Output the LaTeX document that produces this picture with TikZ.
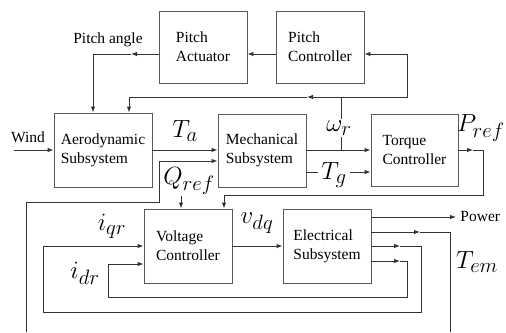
\documentclass[tikz,border=0pt]{standalone}
\usepackage{fontspec}
\setmainfont{Liberation Serif}
\DeclareMathSizes{27}{27}{21}{16}
\usetikzlibrary{arrows.meta,calc}
\begin{document}
\begin{tikzpicture}[x=1pt,y=-1pt,
  line width=0.9pt,
  wire/.style={draw=black!80,line width=0.9pt},
  arr/.style={wire,-{Latex[length=6pt,width=4.5pt]}},
  blk/.style={draw=black!65,line width=0.9pt,minimum width=88pt,minimum height=73pt,inner sep=0pt,align=left,font=\fontsize{15.5}{19}\selectfont},
  lbl/.style={font=\fontsize{15.5}{19}\selectfont,inner sep=1pt},
  mlbl/.style={font=\fontsize{27}{30}\selectfont,inner sep=1pt}]
\useasboundingbox (0,0) rectangle (506,332);
% blocks
\node[blk,minimum height=72pt] (pa) at (203,47) {Pitch\\Actuator};
\node[blk,minimum height=72pt] (pc) at (320,47) {Pitch\\Controller};
\node[blk,minimum width=98pt,minimum height=74pt] (aero) at (103,150) {Aerodynamic\\Subsystem};
\node[blk] (mech) at (262,150.5) {Mechanical\\Subsystem};
\node[blk,minimum width=87pt,minimum height=72pt] (tq) at (414.5,150) {Torque\\Controller};
\node[blk,minimum height=74pt] (vc) at (188,246) {Voltage\\Controller};
\node[blk,minimum height=74pt] (el) at (327,246) {Electrical\\Subsystem};
% helper coordinates
\coordinate (y54) at (0,54);
\coordinate (y150) at (0,150);
\coordinate (y161) at (0,161);
\coordinate (y172) at (0,172);
\coordinate (y217) at (0,217);
\coordinate (y232) at (0,232);
\coordinate (y261) at (0,261);
\coordinate (y264) at (0,264);
\coordinate (paTip) at (131,54);
\coordinate (paCorner) at (93,54);
\coordinate (wj) at (341,150);
\coordinate (fbj) at (341,97);
\coordinate (fbTip) at (307,97);
\coordinate (fbL) at (129,97);
\coordinate (fbR) at (407,97);
\coordinate (fbRt) at (407,54);
\coordinate (windS) at (14,150);
\coordinate (temB) at (26,332);
\coordinate (temC1) at (26,202);
\coordinate (temC2) at (159,202);
\coordinate (temC3) at (159,161);
\coordinate (prTip) at (473,150);
\coordinate (prC1) at (483,150);
\coordinate (prC2) at (483,195);
\coordinate (prC3) at (224,195);
\coordinate (qS) at (181,196);
\coordinate (pwTip) at (456,217);
\coordinate (teTip) at (420,232);
\coordinate (teC1) at (450,232);
\coordinate (teB) at (450,332);
\coordinate (iqTip) at (400,246);
\coordinate (iqC1) at (421,246);
\coordinate (iqC2) at (421,312);
\coordinate (iqC3) at (43,312);
\coordinate (iqC4) at (43,246);
\coordinate (idTip) at (400,261);
\coordinate (idC1) at (407,261);
\coordinate (idC2) at (407,297);
\coordinate (idC3) at (108,297);
\coordinate (idC4) at (108,264);
% connectors
\draw[arr] (pc.west|-y54) -- (pa.east|-y54);
\draw[arr] (pa.west|-y54) -- (paTip);
\draw[arr] (paTip) -- (paCorner) -- (aero.north-|paCorner);
\draw[wire] (wj) -- (fbj);
\draw[arr] (fbj) -- (fbTip);
\draw[arr] (fbTip) -- (fbL) -- (aero.north-|fbL);
\draw[arr] (fbj) -- (fbR) -- (fbRt) -- (pc.east|-y54);
\draw[arr] (windS) -- (aero.west|-y150);
\draw[arr] (aero.east|-y150) -- (mech.west|-y150);
\draw[arr] (temB) -- (temC1) -- (temC2) -- (temC3) -- (mech.west|-y161);
\draw[arr] (mech.east|-y150) -- (tq.west|-y150);
\draw[arr] (mech.east|-y172) -- (tq.west|-y172);
\draw[arr] (tq.east|-y150) -- (prTip);
\draw[arr] (prTip) -- (prC1) -- (prC2) -- (prC3) -- (vc.north-|prC3);
\draw[arr] (qS) -- (vc.north-|qS);
\draw[arr] (vc.east) -- (el.west);
\draw[arr] (el.east|-y217) -- (pwTip);
\draw[arr] (el.east|-y232) -- (teTip);
\draw[wire] (teTip) -- (teC1) -- (teB);
\draw[arr] (el.east) -- (iqTip);
\draw[arr] (iqTip) -- (iqC1) -- (iqC2) -- (iqC3) -- (iqC4) -- (vc.west);
\draw[arr] (el.east|-y261) -- (idTip);
\draw[arr] (idTip) -- (idC1) -- (idC2) -- (idC3) -- (idC4) -- (vc.west|-y264);
% labels
\node[lbl] (pang) at (108,40) {Pitch angle};
\node[lbl] (wind) at (28,137) {Wind};
\node[lbl,anchor=west] (power) at (459,216) {Power};
\node[mlbl] (ta) at (185,131) {$T_a$};
\node[mlbl,fill=white,inner sep=2pt] (wr) at (339,128) {$\omega_r$};
\node[mlbl,anchor=east,inner sep=0pt] (pref) at (505,128) {$P_{ref}$};
\node[mlbl,fill=white,inner xsep=3pt,inner ysep=0pt] (tg) at (334,175) {$T_g$};
\node[mlbl] (qref) at (189,181) {$Q_{ref}$};
\node[mlbl] (vdq) at (257,223) {$v_{dq}$};
\node[mlbl] (iqr) at (112,226) {$i_{qr}$};
\node[mlbl] (idr) at (85,273) {$i_{dr}$};
\node[mlbl] (tem) at (477,262) {$T_{em}$};
\end{tikzpicture}
\end{document}
